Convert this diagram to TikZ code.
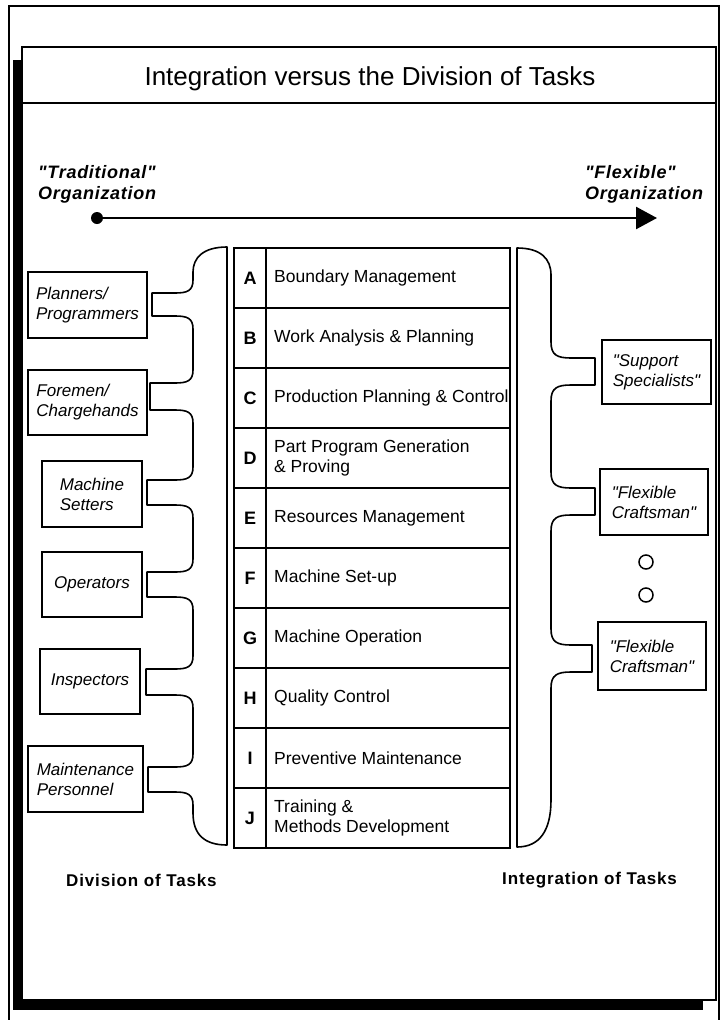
\documentclass[tikz,border=0pt]{standalone}
\usepackage{fontspec}
\setmainfont{Liberation Sans}
% families without the TeX quote mapping, so that " stays a straight quote
\newfontfamily\plainsans{Liberation Sans}
\newfontfamily\trackfont[LetterSpace=4]{Liberation Sans}
\newfontfamily\widetrack[LetterSpace=5]{Liberation Sans}
\usetikzlibrary{arrows.meta}

\begin{document}
\begin{tikzpicture}[x=1pt,y=-1pt,
  frameline/.style={line width=1.8pt},
  thinframe/.style={line width=1.3pt},
  personbox/.style={draw,line width=1.8pt,inner sep=0pt,align=left,
    font=\plainsans\itshape\fontsize{17}{20}\selectfont},
  bracket/.style={draw,line width=1.6pt,line join=round},
  grid/.style={line width=1.7pt},
  letter/.style={font=\fontsize{18}{20}\selectfont\bfseries,inner sep=0pt},
  task/.style={anchor=west,align=left,inner sep=0pt,
    font=\fontsize{17.5}{20}\selectfont},
  orglabel/.style={anchor=north west,align=left,inner sep=0pt,
    font=\trackfont\bfseries\itshape\fontsize{18}{21}\selectfont},
  footlabel/.style={anchor=west,inner sep=0pt,
    font=\widetrack\bfseries\fontsize{17}{20}\selectfont},
  dots/.style={draw,line width=1.5pt}]

\useasboundingbox (0,0) rectangle (723,1020);

% outer page frame
\draw[thinframe] (9,1020) -- (9,6) -- (719,6) -- (719,1020);

% framed panel with its drop shadow
\fill (13,60) rectangle (703,1010);
\draw[frameline,fill=white] (22,47) rectangle (716,1000);
\draw[frameline] (22,103) -- (716,103);
\node[font=\fontsize{26}{30}\selectfont] (title) at (370,79)
  {Integration versus the Division of Tasks};

% scale from traditional to flexible organisation
\node[orglabel] (trad) at (38,165) {"Traditional"\\Organization};
\node[orglabel] (flex) at (585,165) {"Flexible"\\Organization};
\node[circle,fill,inner sep=0pt,minimum size=12pt] (start) at (97,218) {};
\coordinate (tip) at (657,218);
\draw[line width=2.6pt,-{Triangle[length=21pt,width=22pt]}] (start.center) -- (tip);

% task table
\draw[grid] (234,248) rectangle (510,848);
\draw[grid] (266,248) -- (266,848);
\foreach \y in {308,368,428,488,548,608,668,728,788}
  \draw[grid] (234,\y) -- (510,\y);

\foreach \l/\t [count=\i from 0] in {
  A/Boundary Management,
  B/Work Analysis \& Planning,
  C/Production Planning \& Control,
  D/{Part Program Generation\\\& Proving},
  E/Resources Management,
  F/Machine Set-up,
  G/Machine Operation,
  H/Quality Control,
  I/Preventive Maintenance,
  J/{Training \&\\Methods Development}}
{
  \node[letter] (L\l) at (250,278+60*\i) {\l};
  \node[task] (T\l) at (274,278+60*\i) {\t};
}

% job roles under the division of tasks
\node[personbox,minimum width=119pt,minimum height=66pt] (planners) at (87.5,305) {Planners/\\Programmers};
\node[personbox,minimum width=119pt,minimum height=65pt] (foremen) at (87.5,402.5) {Foremen/\\Chargehands};
\node[personbox,minimum width=100pt,minimum height=66pt] (setters) at (92,494) {Machine\\Setters};
\node[personbox,minimum width=100pt,minimum height=65pt] (operators) at (92,584.5) {Operators};
\node[personbox,minimum width=100pt,minimum height=65pt] (inspectors) at (90,681.5) {Inspectors};
\node[personbox,minimum width=115pt,minimum height=66pt] (maint) at (85.5,779) {Maintenance\\Personnel};

% job roles under the integration of tasks
\node[personbox,minimum width=109pt,minimum height=64pt] (support) at (656.5,372) {"Support\\Specialists"};
\node[personbox,minimum width=108pt,minimum height=66pt] (craftA) at (654,502) {"Flexible\\Craftsman"};
\node[personbox,minimum width=108pt,minimum height=68pt] (craftB) at (652,656) {"Flexible\\Craftsman"};
\node[dots,circle,inner sep=0pt,minimum size=14pt] (dotA) at (646,562) {};
\node[dots,circle,inner sep=0pt,minimum size=14pt] (dotB) at (646,595) {};

% left bracket gathering the tasks to the divided roles
\draw[bracket] (227,247) .. controls (203,247) and (193,258) .. (193,272)
  -- (193,280) .. controls (193,291) and (187,293) .. (175,293) -- (152,293) -- (152,316)
  -- (175,316) .. controls (187,316) and (193,318) .. (193,329)
  -- (193,370) .. controls (193,381) and (187,383) .. (175,383) -- (150,383) -- (150,410)
  -- (175,410) .. controls (187,410) and (193,412) .. (193,423)
  -- (193,467) .. controls (193,478) and (187,480) .. (175,480) -- (147,480) -- (147,505)
  -- (175,505) .. controls (187,505) and (193,507) .. (193,518)
  -- (193,559) .. controls (193,570) and (187,572) .. (175,572) -- (147,572) -- (147,597)
  -- (175,597) .. controls (187,597) and (193,599) .. (193,610)
  -- (193,656) .. controls (193,667) and (187,669) .. (175,669) -- (146,669) -- (146,695)
  -- (175,695) .. controls (187,695) and (193,697) .. (193,708)
  -- (193,754) .. controls (193,765) and (187,767) .. (175,767) -- (148,767) -- (148,792)
  -- (175,792) .. controls (187,792) and (193,794) .. (193,805)
  -- (193,813) .. controls (193,835) and (205,845) .. (227,845) -- cycle;

% right bracket gathering the tasks to the integrated roles
\draw[bracket] (517,248) .. controls (541,248) and (551,259) .. (551,275)
  -- (551,342) .. controls (551,355) and (557,358) .. (571,358) -- (595,358) -- (595,385)
  -- (571,385) .. controls (557,385) and (551,388) .. (551,401)
  -- (551,472) .. controls (551,485) and (557,488) .. (571,488) -- (595,488) -- (595,515)
  -- (571,515) .. controls (557,515) and (551,518) .. (551,531)
  -- (551,629) .. controls (551,642) and (557,645) .. (571,645) -- (592,645) -- (592,672)
  -- (571,672) .. controls (557,672) and (551,675) .. (551,688)
  -- (551,800) .. controls (551,830) and (540,847) .. (517,847) -- cycle;

% captions
\node[footlabel] (division) at (66,880) {Division of Tasks};
\node[footlabel] (integration) at (502,880) {Integration of Tasks};

\end{tikzpicture}
\end{document}
